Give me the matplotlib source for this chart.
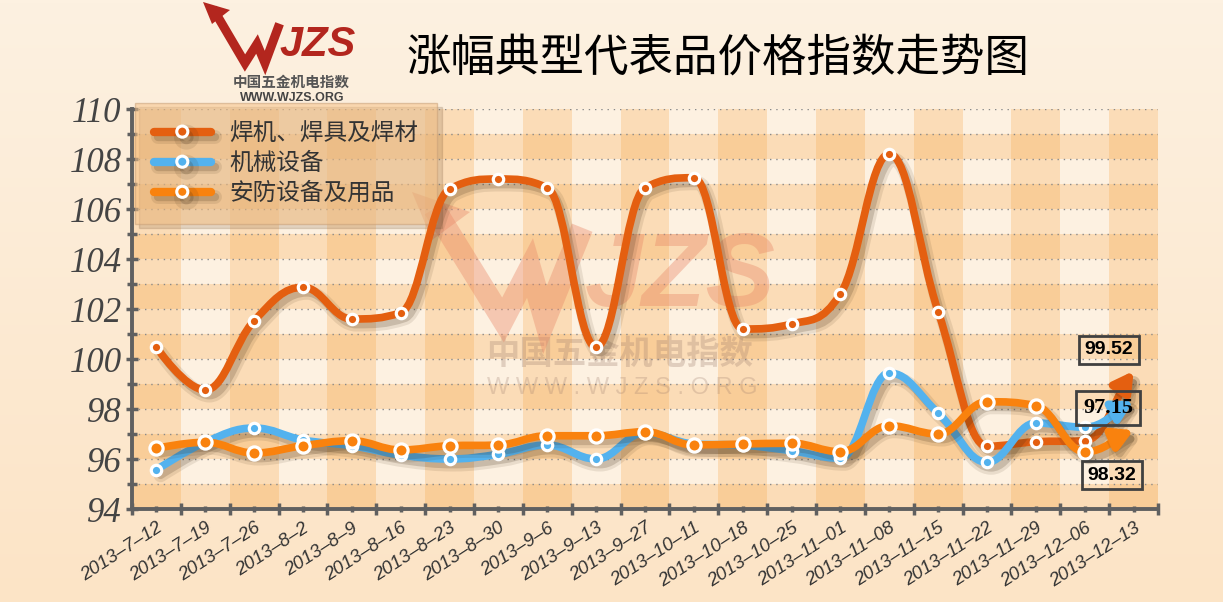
import numpy as np
import matplotlib
matplotlib.use("Agg")
import matplotlib.pyplot as plt
import matplotlib.patheffects as pe
from matplotlib.path import Path
from matplotlib.patches import PathPatch, FancyArrowPatch, Polygon
from matplotlib.lines import Line2D

plt.rcParams['font.family'] = ['Noto Sans CJK SC', 'DejaVu Sans']

title = "涨幅典型代表品价格指数走势图"
dates = ["2013-7-12", "2013-7-19", "2013-7-26", "2013-8-2", "2013-8-9", "2013-8-16",
         "2013-8-23", "2013-8-30", "2013-9-6", "2013-9-13", "2013-9-27", "2013-10-11",
         "2013-10-18", "2013-10-25", "2013-11-01", "2013-11-08", "2013-11-15",
         "2013-11-22", "2013-11-29", "2013-12-06", "2013-12-13"]
names = ["焊机、焊具及焊材", "机械设备", "安防设备及用品"]
welding = [100.47, 98.76, 101.53, 102.87, 101.6, 101.85, 106.8, 107.2, 106.85, 100.48,
           106.85, 107.25, 101.2, 101.4, 102.6, 108.2, 101.9, 96.51, 96.69, 96.73, 99.52]
machinery = [95.57, 96.67, 97.24, 96.76, 96.53, 96.16, 96.0, 96.19, 96.56, 96.0,
             97.05, 96.6, 96.55, 96.33, 96.03, 99.44, 97.84, 95.87, 97.44, 97.27, 98.32]
security = [96.43, 96.67, 96.24, 96.53, 96.73, 96.36, 96.53, 96.56, 96.93, 96.93,
            97.09, 96.56, 96.6, 96.63, 96.29, 97.33, 97.0, 98.29, 98.13, 96.29, 97.15]
colors = ["#E45F10", "#53B2EE", "#F9820E"]
marker_sizes = [7.5, 7.5, 9.5]

W, H = 1223, 602


def fpx(x, y):
    # figure pixel (from top-left) -> figure fraction
    return x / W, 1 - y / H


def spline(xs, ys, smoothing=1.5):
    # highcharts-like spline control points
    n = len(xs)
    den = smoothing + 1
    ctrl = []
    for i in range(n):
        px, py = xs[i], ys[i]
        if 0 < i < n - 1:
            lx, ly = xs[i - 1], ys[i - 1]
            nx, ny = xs[i + 1], ys[i + 1]
            lcx, lcy = (smoothing * px + lx) / den, (smoothing * py + ly) / den
            rcx, rcy = (smoothing * px + nx) / den, (smoothing * py + ny) / den
            corr = (rcy - lcy) * (rcx - px) / (rcx - lcx) + py - rcy
            lcy += corr
            rcy += corr
            if lcy > ly and lcy > py:
                lcy = max(ly, py)
                rcy = 2 * py - lcy
            elif lcy < ly and lcy < py:
                lcy = min(ly, py)
                rcy = 2 * py - lcy
            if rcy > ny and rcy > py:
                rcy = max(ny, py)
                lcy = 2 * py - rcy
            elif rcy < ny and rcy < py:
                rcy = min(ny, py)
                lcy = 2 * py - rcy
            ctrl.append(((lcx, lcy), (rcx, rcy)))
        elif i == n - 1:
            lx, ly = xs[i - 1], ys[i - 1]
            ctrl.append((((smoothing * px + lx) / den, (smoothing * py + ly) / den), (px, py)))
        else:
            ctrl.append(((px, py), (px, py)))
    return ctrl


def seg_path(xs, ys, ctrl, a, b):
    verts = [(xs[a], ys[a])]
    codes = [Path.MOVETO]
    for i in range(a + 1, b + 1):
        verts += [ctrl[i - 1][1], ctrl[i][0], (xs[i], ys[i])]
        codes += [Path.CURVE4] * 3
    return Path(verts, codes)


def shadow():
    return [pe.SimpleLineShadow(offset=(3, -4), shadow_color='#3c2810', alpha=0.10, linewidth=10),
            pe.SimpleLineShadow(offset=(3, -4), shadow_color='#3c2810', alpha=0.18),
            pe.Normal()]


fig = plt.figure(figsize=(W / 100, H / 100), dpi=100)

# background gradient
bg = fig.add_axes([0, 0, 1, 1], zorder=-10)
top = np.array([253, 241, 225]) / 255
bot = np.array([252, 228, 198]) / 255
t = np.linspace(0, 1, 200)[:, None, None]
bg.imshow(top * (1 - t) + bot * t, aspect='auto', extent=[0, 1, 0, 1])
bg.axis('off')

ax = fig.add_axes([132 / W, (H - 509) / H, (1158 - 132) / W, 400 / H])
ax.set_xlim(-0.5, len(dates) - 0.5)
ax.set_ylim(94, 110)
ax.set_facecolor('#FDF1E1')

x = np.arange(len(dates))
for i in range(0, len(dates), 2):
    ax.axvspan(i - 0.5, i + 0.5, color='#F6A546', alpha=0.27, lw=0, zorder=0.1)
for v in range(94, 110, 2):
    ax.axhspan(v, v + 1, color='#F6A546', alpha=0.27, lw=0, zorder=0.1)

ax.set_yticks(range(94, 111, 2))
ax.set_yticks(range(95, 110, 2), minor=True)
ax.grid(axis='y', which='both', color='#8a8a8a', lw=1, ls=(0, (1, 3.5)), zorder=0.5)
ax.set_axisbelow(True)

ax.set_xticks(x)
ax.set_xticks(np.arange(-0.5, len(dates), 1), minor=True)
ax.set_xticklabels([d.replace('-', '–') for d in dates], rotation=33, ha='right',
                   va='top', rotation_mode='anchor', fontfamily='Liberation Sans',
                   style='italic', fontsize=13.5, color='#333333')
for lab in ax.get_yticklabels():
    lab.set_fontfamily('Liberation Serif')
    lab.set_style('italic')
    lab.set_fontsize(25)
    lab.set_color('#444444')

for s in ['top', 'right']:
    ax.spines[s].set_visible(False)
for s in ['left', 'bottom']:
    ax.spines[s].set_color('#606060')
    ax.spines[s].set_linewidth(2.8)
ax.tick_params(axis='y', which='major', direction='inout', length=9, width=2.5, color='#606060', pad=3)
ax.tick_params(axis='y', which='minor', direction='inout', length=7, width=2.5, color='#606060')
ax.tick_params(axis='x', which='major', direction='inout', length=5, width=2.5, color='#606060', pad=5)
ax.tick_params(axis='x', which='minor', direction='inout', length=9, width=2.5, color='#606060')

# watermark
wm = '#E98A6A'
ax.text(*fpx(620, 354), "中国五金机电指数", transform=fig.transFigure, fontsize=24,
        weight='bold', color='#A08070', alpha=0.3, ha='center', va='center', zorder=1)
ax.text(*fpx(622, 388), "W W W . W J Z S . O R G", transform=fig.transFigure, fontsize=17,
        fontfamily='Liberation Sans', color='#A08070', alpha=0.28, ha='center', va='center',
        zorder=1)
ax.text(*fpx(585, 280), "JZS", transform=fig.transFigure, fontsize=75,
        fontfamily='Liberation Sans', weight='bold', style='italic', color=wm, alpha=0.4,
        ha='left', va='center', zorder=1)
pts = [fpx(*p) for p in [(440, 218), (503, 320), (530, 268), (545, 320), (578, 238)]]
ax.add_line(Line2D([p[0] for p in pts], [p[1] for p in pts], transform=fig.transFigure,
                   color=wm, alpha=0.4, lw=16, solid_joinstyle='miter', zorder=1))
ax.add_patch(Polygon([fpx(412, 192), fpx(470, 212), fpx(432, 240)], closed=True,
                     transform=fig.transFigure, color=wm, alpha=0.4, lw=0, zorder=1))

# series
for k, (vals, c, ms) in enumerate(zip([welding, machinery, security], colors, marker_sizes)):
    ctrl = spline(list(x), vals)
    n = len(vals)
    body = PathPatch(seg_path(x, vals, ctrl, 0, n - 2), fill=False, ec=c, lw=5.5,
                     capstyle='round', joinstyle='round', zorder=3 + k)
    body.set_path_effects(shadow())
    ax.add_patch(body)
    arr = FancyArrowPatch(path=seg_path(x, vals, ctrl, n - 2, n - 1),
                          arrowstyle='-|>,head_length=1.15,head_width=0.65', mutation_scale=10,
                          color=c, lw=5.5, zorder=3 + k)
    arr.set_path_effects(shadow())
    ax.add_patch(arr)
    ax.plot(x[:-1], vals[:-1], ls='none', marker='o', ms=ms, mfc=c, mec='white', mew=2.3,
            zorder=6.5)

# end value labels
for vals, fam, lx, ly in [(welding, 'Liberation Sans', 19.49, 100.36),
                          (security, 'Liberation Serif', 19.48, 98.04),
                          (machinery, 'Liberation Sans', 19.56, 95.36)]:
    ax.text(lx, ly, f"{vals[-1]:.2f}", fontfamily=fam, weight='bold',
            fontsize=16 if fam == 'Liberation Serif' else 14, color='black',
            ha='center', va='center', zorder=8,
            bbox=dict(boxstyle='square,pad=0.3', fc='none', ec='#404040', lw=2))

# legend
handles = [Line2D([], [], color=c, lw=6, marker='o', ms=8, mfc=c, mec='white', mew=2.2,
                  solid_capstyle='round', path_effects=shadow()) for c in colors]
leg = ax.legend(handles, names, loc='upper left', bbox_to_anchor=(0.003, 1.015),
                borderaxespad=0, prop={'family': ['Noto Sans CJK SC'], 'size': 17},
                labelcolor='#333333', handlelength=2.4, handletextpad=0.8,
                labelspacing=0.3, borderpad=0.8, fancybox=False, facecolor='#F7C48A',
                edgecolor='#C8A078', framealpha=0.55,
                shadow={'ox': 3, 'oy': -3, 'color': '#7a5a3a', 'alpha': 0.2})
leg.set_zorder(2.6)

# title
fig.text(*fpx(718, 58), title, fontsize=32, ha='center', va='center', weight='medium',
         color='#000000')

# logo
red = '#B3261E'
pts = [fpx(*p) for p in [(215, 12), (245, 63), (257, 44), (265, 63), (278, 28)]]
fig.add_artist(Line2D([p[0] for p in pts], [p[1] for p in pts], transform=fig.transFigure,
                      color=red, lw=6.5, solid_joinstyle='miter'))
fig.add_artist(Polygon([fpx(203, 2), fpx(230, 10), fpx(212, 24)], closed=True,
                       transform=fig.transFigure, color=red, lw=0))
fig.text(*fpx(279, 45), "JZS", fontsize=30, fontfamily='Liberation Sans', weight='bold',
         style='italic', color=red, ha='left', va='center')
fig.text(*fpx(291, 82), "中国五金机电指数", fontsize=10.5, weight='bold', color='#555555',
         ha='center', va='center')
fig.text(*fpx(292, 98), "WWW.WJZS.ORG", fontsize=9, fontfamily='Liberation Sans',
         weight='bold', color='#444444', ha='center', va='center')

fig.savefig('out.png', dpi=100)
